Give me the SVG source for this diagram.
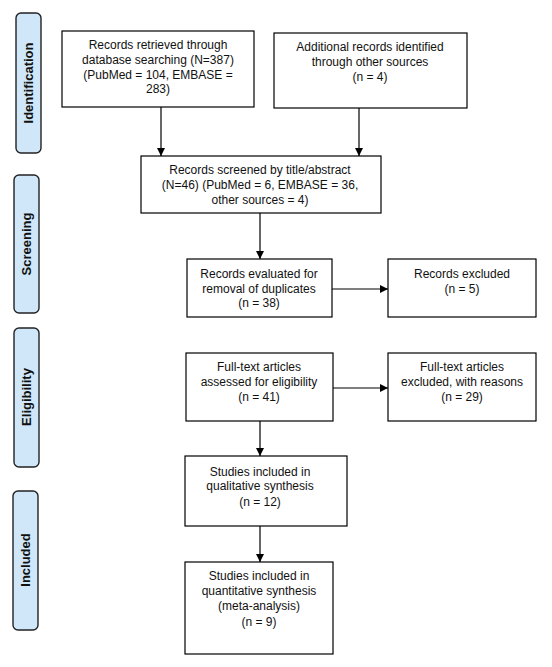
<svg xmlns="http://www.w3.org/2000/svg" width="552" height="667" viewBox="0 0 552 667">
<style>
.box{fill:#fff;stroke:#000;stroke-width:1.2}
.side{fill:#cfe7f9;stroke:#222;stroke-width:1.4}
.t{font-family:"Liberation Sans",Arial,sans-serif;font-size:12px;fill:#111;text-anchor:middle}
.s{font-family:"Liberation Sans",Arial,sans-serif;font-size:13px;font-weight:bold;fill:#111;text-anchor:middle}
.c{stroke:#000;stroke-width:1.2;fill:none;marker-end:url(#ah)}
</style>
<defs>
<marker id="ah" viewBox="0 0 10 10" refX="10" refY="5" markerWidth="8" markerHeight="8" markerUnits="userSpaceOnUse" orient="auto">
<path d="M0,0 L10,5 L0,10 z" fill="#000"/>
</marker>
</defs>
<rect width="552" height="667" fill="#fff"/>
<g id="side-identification"><rect class="side" x="16" y="13" width="25" height="140" rx="5"/><text class="s" transform="translate(33,83) rotate(-90)">Identification</text></g>
<g id="side-screening"><rect class="side" x="14" y="175" width="25" height="138" rx="5"/><text class="s" transform="translate(31,244) rotate(-90)">Screening</text></g>
<g id="side-eligibility"><rect class="side" x="14" y="328" width="25" height="139" rx="5"/><text class="s" transform="translate(31,397) rotate(-90)">Eligibility</text></g>
<g id="side-included"><rect class="side" x="13" y="491" width="25" height="139" rx="5"/><text class="s" transform="translate(30,560) rotate(-90)">Included</text></g>

<g id="n1"><rect class="box" x="62" y="31" width="192" height="76"/>
<text class="t" x="158" y="49">Records retrieved through</text>
<text class="t" x="158" y="64">database searching (N=387)</text>
<text class="t" x="158" y="79">(PubMed = 104, EMBASE =</text>
<text class="t" x="158" y="93">283)</text></g>
<g id="n2"><rect class="box" x="274" y="33" width="193" height="75"/>
<text class="t" x="370" y="51">Additional records identified</text>
<text class="t" x="370" y="66">through other sources</text>
<text class="t" x="370" y="81">(n = 4)</text></g>
<g id="n3"><rect class="box" x="141" y="156" width="240" height="57"/>
<text class="t" x="260" y="174">Records screened by title/abstract</text>
<text class="t" x="260" y="189">(N=46) (PubMed = 6, EMBASE = 36,</text>
<text class="t" x="260" y="204">other sources = 4)</text></g>
<g id="n4"><rect class="box" x="187" y="259" width="145" height="58"/>
<text class="t" x="259" y="278">Records evaluated for</text>
<text class="t" x="259" y="293">removal of duplicates</text>
<text class="t" x="259" y="307">(n = 38)</text></g>
<g id="n5"><rect class="box" x="388" y="259" width="148" height="58"/>
<text class="t" x="462" y="278">Records excluded</text>
<text class="t" x="462" y="293">(n = 5)</text></g>
<g id="n6"><rect class="box" x="186" y="353" width="147" height="68"/>
<text class="t" x="259" y="371">Full-text articles</text>
<text class="t" x="259" y="386">assessed for eligibility</text>
<text class="t" x="259" y="401">(n = 41)</text></g>
<g id="n7"><rect class="box" x="388" y="353" width="148" height="68"/>
<text class="t" x="462" y="371">Full-text articles</text>
<text class="t" x="462" y="386">excluded, with reasons</text>
<text class="t" x="462" y="401">(n = 29)</text></g>
<g id="n8"><rect class="box" x="185" y="456" width="162" height="70"/>
<text class="t" x="260" y="476">Studies included in</text>
<text class="t" x="260" y="490">qualitative synthesis</text>
<text class="t" x="260" y="506">(n = 12)</text></g>
<g id="n9"><rect class="box" x="185" y="562" width="148" height="92"/>
<text class="t" x="259" y="580">Studies included in</text>
<text class="t" x="259" y="595">quantitative synthesis</text>
<text class="t" x="259" y="610">(meta-analysis)</text>
<text class="t" x="259" y="626">(n = 9)</text></g>

<g id="connectors">
<path class="c" d="M161,107 V156"/>
<path class="c" d="M359,108 V156"/>
<path class="c" d="M260,213 V259"/>
<path class="c" d="M332,289 H388"/>
<path class="c" d="M333,388 H388"/>
<path class="c" d="M260,421 V456"/>
<path class="c" d="M260,526 V562"/>
</g>
</svg>
